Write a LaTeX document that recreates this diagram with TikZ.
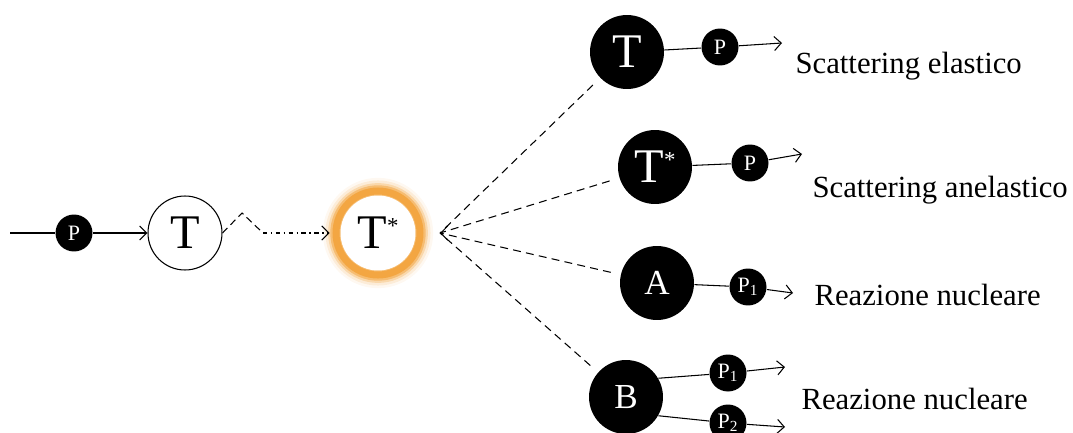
\documentclass[tikz,border=0pt]{standalone}
\usepackage{fontspec}
\setmainfont{Liberation Serif}
\usetikzlibrary{arrows.meta}
\definecolor{glow}{HTML}{F2A23A}
\newcommand{\exc}{\raisebox{9pt}{\fontsize{13}{13}\selectfont *}}
\tikzset{
    big/.style={circle,fill=black,text=white,inner sep=0pt,minimum size=1.48cm,
        font=\fontsize{27.5}{30}\selectfont},
    bigab/.style={big,font=\fontsize{20}{22}\selectfont},
    small/.style={circle,fill=black,text=white,inner sep=0pt,minimum size=0.74cm,
        font=\fontsize{12.5}{13}\selectfont},
    ring/.style={circle,draw=black,fill=white,inner sep=0pt,minimum size=1.48cm,
        font=\fontsize{27.5}{30}\selectfont},
    hot/.style={circle,fill=white,inner sep=0pt,minimum size=1.5cm,outer sep=0.22cm,
        font=\fontsize{27.5}{30}\selectfont},
    spray/.style={dash pattern=on 4.5pt off 3pt,shorten <=0.2cm},
    outcome/.style={anchor=west,inner sep=0pt,font=\fontsize{17.5}{20}\selectfont},
}
\begin{document}
\begin{tikzpicture}[x=0.02cm,y=-0.02cm,line width=0.6pt,
        >={Straight Barb[length=4pt,width=8pt]}]
        \useasboundingbox (0,0) rectangle (1073,433);
        %% Incoming projectile and target
        \coordinate (start) at (10,233);
        \node[small] (P0) at (74,233) {P};
        \node[ring] (T0) at (185,233) {T};
        \draw (start) -- (P0);
        \draw[->] (P0) -- (T0);
        %% Excited nucleus with glow
        \foreach \w/\o in {15/0.07,12/0.14,9/0.28,6.5/0.5,4/0.85}
            \draw[glow,line width=\w pt,opacity=\o] (378,233) circle[radius=0.84cm];
        \node[hot] (Tx) at (378,233) {T\exc};
        %% Zigzag to excited state
        \coordinate (peak) at (242,213);
        \coordinate (kink) at (263,233);
        \draw[dash pattern=on 4pt off 2.5pt] (T0.east) -- (peak) -- (kink);
        \draw[->,dash pattern=on 2.5pt off 2pt on 0.8pt off 2pt] (kink) -- (Tx);
        %% Decay channels
        \coordinate (hub) at (440,233);
        \node[big] (T1) at (627,52) {T};
        \node[big] (T2) at (655,167) {T\exc};
        \node[bigab] (A) at (657,283) {A};
        \node[bigab] (B) at (626,397) {B};
        \foreach \n in {T1,T2,A,B}
            \draw[spray] (\n) -- (hub);
        \draw[->] ([xshift=1pt]hub) -- (hub);
        %% Scattering elastico
        \node[small] (P1) at (720,47) {P};
        \coordinate (e1) at (782,43);
        \draw (T1) -- (P1);
        \draw[->] (P1) -- (e1);
        \node[outcome] (L1) at (795,66) {Scattering elastico};
        %% Scattering anelastico
        \node[small] (P2) at (750,163) {P};
        \coordinate (e2) at (802,154);
        \draw (T2) -- (P2);
        \draw[->] (P2) -- (e2);
        \node[outcome] (L2) at (812,190) {Scattering anelastico};
        %% Reazione nucleare (A)
        \node[small] (P3) at (748,287) {P\textsubscript{1}};
        \coordinate (e3) at (793,293);
        \draw (A) -- (P3);
        \draw[->] (P3) -- (e3);
        \node[outcome] (L3) at (814,295) {Reazione nucleare};
        %% Reazione nucleare (B)
        \node[small] (P4) at (728,373) {P\textsubscript{1}};
        \node[small] (P5) at (728,423) {P\textsubscript{2}};
        \coordinate (e4) at (785,367);
        \coordinate (e5) at (785,427);
        \draw (B.30) -- (P4);
        \draw (B.-30) -- (P5);
        \draw[->] (P4) -- (e4);
        \draw[->] (P5) -- (e5);
        \node[outcome] (L4) at (801,399) {Reazione nucleare};
    \end{tikzpicture}
\end{document}
